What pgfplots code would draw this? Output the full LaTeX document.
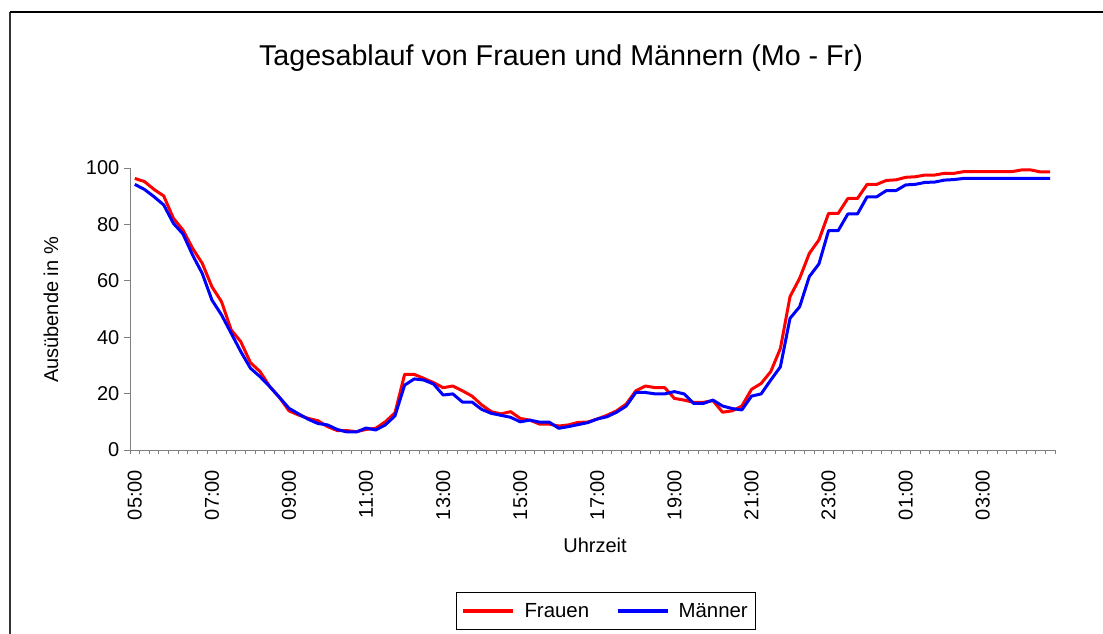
\documentclass[border=0pt]{standalone}
\usepackage{pgfplots}
\pgfplotsset{compat=1.18}
\usepackage{fontspec}
\setmainfont{Liberation Sans}
\definecolor{axgray}{RGB}{128,128,128}
\begin{document}
\begin{tikzpicture}
\useasboundingbox (-97.5pt,-137.25pt) rectangle (729.75pt,337.5pt);
\fill[white] (-97.5pt,-137.25pt) rectangle (729.75pt,337.5pt);
\draw[line width=1.4pt, black!80] (-90pt,-140pt) -- (-90pt,328.5pt);
\draw[line width=0.9pt, black] (-90pt,328.5pt) -- (735pt,328.5pt);
\begin{axis}[
  scale only axis,
  width=693.75pt, height=211.5pt,
  xmin=-0.5, xmax=95.5, ymin=0, ymax=100,
  axis x line*=bottom, axis y line*=left,
  axis line style={axgray, line width=0.75pt},
  tick align=outside,
  ytick={0,20,...,100},
  xtick={0,8,...,88},
  xticklabels={05:00,07:00,09:00,11:00,13:00,15:00,17:00,19:00,21:00,23:00,01:00,03:00},
  minor xtick={-0.5,0.5,...,95.5},
  major tick length=4.5pt,
  minor tick length=3pt,
  major x tick style={draw=none},
  minor x tick style={axgray, line width=0.75pt},
  major y tick style={axgray, line width=0.75pt},
  /pgf/number format/assume math mode=true,
  tick label style={font=\fontsize{15}{18}\selectfont},
  xticklabel style={rotate=90, anchor=east},
  xticklabel shift=7pt,
  legend columns=2,
  legend style={at={(0.3524,-0.5035)}, anchor=north west, draw=black, line width=0.6pt,
    font=\fontsize{15.3}{18}\selectfont, inner xsep=4pt, inner ysep=6pt,
    /tikz/every odd column/.append style={column sep=5pt},
    /tikz/every even column/.append style={column sep=18pt}},
  legend image code/.code={\draw[#1, line width=2.6pt] (0pt,0pt) -- (37.5pt,0pt);},
  clip=false,
]
\addplot[red, line width=2.25pt, line join=round] coordinates {
(0,96.3)(1,95.2)(2,92.4)(3,90.1)(4,82.2)(5,78.0)(6,71.5)(7,66.2)(8,57.9)(9,52.6)
(10,42.6)(11,38.4)(12,31.0)(13,27.8)(14,22.5)(15,18.7)(16,13.9)(17,12.4)(18,11.2)(19,10.4)
(20,8.3)(21,6.9)(22,6.9)(23,6.5)(24,7.3)(25,7.7)(26,10.0)(27,13.2)(28,26.8)(29,26.8)
(30,25.4)(31,23.9)(32,22.1)(33,22.7)(34,21.0)(35,19.1)(36,16.0)(37,13.6)(38,12.8)(39,13.6)
(40,11.2)(41,10.6)(42,9.2)(43,9.2)(44,8.5)(45,8.9)(46,9.8)(47,9.9)(48,11.0)(49,12.3)
(50,13.9)(51,16.3)(52,21.0)(53,22.7)(54,22.1)(55,22.1)(56,18.3)(57,17.7)(58,16.9)(59,16.9)
(60,17.5)(61,13.4)(62,13.9)(63,15.6)(64,21.5)(65,23.6)(66,27.8)(67,36.0)(68,54.4)(69,60.9)
(70,69.7)(71,74.5)(72,83.9)(73,83.9)(74,89.2)(75,89.2)(76,94.2)(77,94.2)(78,95.6)(79,95.8)
(80,96.7)(81,96.9)(82,97.5)(83,97.5)(84,98.1)(85,98.1)(86,98.7)(87,98.7)(88,98.7)(89,98.7)
(90,98.7)(91,98.7)(92,99.3)(93,99.3)(94,98.6)(95,98.6)
};
\addlegendentry{Frauen}
\addplot[blue, line width=2.25pt, line join=round] coordinates {
(0,94.2)(1,92.4)(2,89.8)(3,86.9)(4,80.4)(5,76.6)(6,69.1)(7,62.6)(8,53.2)(9,47.9)
(10,41.4)(11,34.9)(12,29.0)(13,26.0)(14,22.5)(15,18.7)(16,14.8)(17,12.8)(18,10.9)(19,9.4)
(20,8.9)(21,7.3)(22,6.4)(23,6.4)(24,7.8)(25,7.1)(26,8.9)(27,12.1)(28,23.0)(29,25.2)
(30,24.8)(31,23.4)(32,19.5)(33,19.9)(34,17.0)(35,17.0)(36,14.4)(37,13.0)(38,12.3)(39,11.6)
(40,10.0)(41,10.6)(42,9.9)(43,9.9)(44,7.7)(45,8.3)(46,9.0)(47,9.7)(48,11.0)(49,11.8)
(50,13.4)(51,15.6)(52,20.4)(53,20.4)(54,19.9)(55,19.9)(56,20.7)(57,19.9)(58,16.5)(59,16.5)
(60,17.7)(61,15.6)(62,14.7)(63,14.2)(64,19.1)(65,19.9)(66,24.8)(67,29.5)(68,46.7)(69,50.8)
(70,61.5)(71,66.0)(72,77.8)(73,77.8)(74,83.7)(75,83.7)(76,89.8)(77,89.8)(78,92.0)(79,92.0)
(80,94.0)(81,94.2)(82,94.9)(83,95.0)(84,95.7)(85,95.9)(86,96.3)(87,96.3)(88,96.3)(89,96.3)
(90,96.3)(91,96.3)(92,96.3)(93,96.3)(94,96.3)(95,96.3)
};
\addlegendentry{Männer}
\end{axis}
\node[font=\fontsize{21.5}{26}\selectfont, anchor=base] at (323.25pt,288.75pt) {Tagesablauf von Frauen und Männern (Mo - Fr)};
\node[font=\fontsize{15}{18}\selectfont, rotate=90] at (-59.25pt,105pt) {Ausübende in \%};
\node[font=\fontsize{15}{18}\selectfont] at (348.75pt,-71.25pt) {Uhrzeit};
\end{tikzpicture}
\end{document}
